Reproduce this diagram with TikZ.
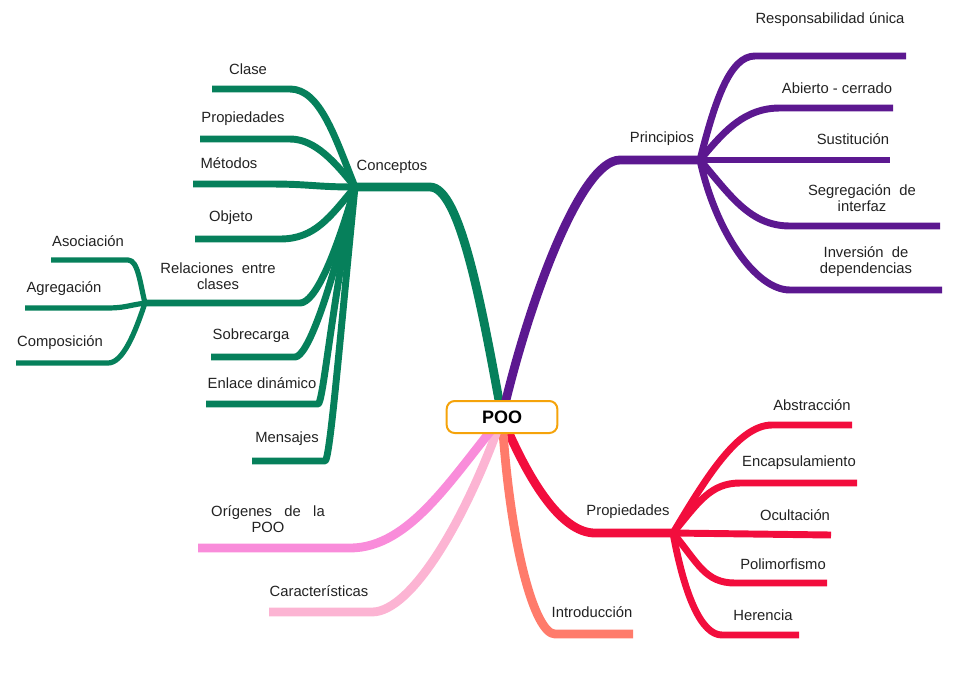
\documentclass[tikz,border=0pt]{standalone}
\usepackage{fontspec}
\setmainfont{Liberation Sans}

\definecolor{conccol}{HTML}{06805B}
\definecolor{princol}{HTML}{5C1890}
\definecolor{propcol}{HTML}{F20D3D}
\definecolor{introcol}{HTML}{FF7B6B}
\definecolor{origcol}{HTML}{F98CDA}
\definecolor{caraccol}{HTML}{FCB4D3}
\definecolor{poocol}{HTML}{F5A30A}
\definecolor{txtgray}{HTML}{222222}

\tikzset{
  lbl/.style={font=\fontsize{11.1}{12}\selectfont, text=txtgray, inner sep=0pt, align=center, yshift=-1.5pt},
  trunk/.style={line width=6.6pt, line join=round},
  twig/.style={line width=5.2pt, line join=round},
  leaf/.style={line width=3.9pt, line join=round},
}

\begin{document}
\begin{tikzpicture}[x=0.75pt, y=0.75pt]
   \useasboundingbox (0,0) rectangle (962,-679);

   % Hubs
   \coordinate (poo-c) at (502,-417);
   \coordinate (conc) at (355,-187);
   \coordinate (prin) at (700,-160);
   \coordinate (prop) at (673,-533);
   \coordinate (rel) at (145,-303);

   % Bends and free ends of the branches
   \coordinate (conc-b) at (430,-187);
   \coordinate (prin-b) at (620,-160);
   \coordinate (prop-b) at (595,-533);
   \coordinate (intro-b) at (555,-634);   \coordinate (intro-e) at (633,-634);
   \coordinate (carac-b) at (372,-612);   \coordinate (carac-e) at (269,-612);
   \coordinate (orig-b) at (350,-548);    \coordinate (orig-e) at (198,-548);

   \coordinate (clase-b) at (290,-89);    \coordinate (clase-e) at (212,-89);
   \coordinate (cprop-b) at (290,-139);   \coordinate (cprop-e) at (200,-139);
   \coordinate (metod-b) at (270,-184);   \coordinate (metod-e) at (193,-184);
   \coordinate (objet-b) at (280,-239);   \coordinate (objet-e) at (195,-239);
   \coordinate (rel-b) at (300,-303);
   \coordinate (sobre-b) at (295,-357);   \coordinate (sobre-e) at (211,-357);
   \coordinate (enlace-b) at (318,-404);  \coordinate (enlace-e) at (206,-404);
   \coordinate (mensa-b) at (325,-461);   \coordinate (mensa-e) at (252,-461);

   \coordinate (asoc-b) at (128,-260);    \coordinate (asoc-e) at (51,-260);
   \coordinate (agreg-b) at (105,-308);   \coordinate (agreg-e) at (25,-308);
   \coordinate (compo-b) at (108,-363);   \coordinate (compo-e) at (16,-363);

   \coordinate (resp-b) at (755,-56);     \coordinate (resp-e) at (906,-56);
   \coordinate (abier-b) at (780,-108);   \coordinate (abier-e) at (893,-108);
   \coordinate (susti-e) at (890,-160);
   \coordinate (segre-b) at (790,-226);   \coordinate (segre-e) at (940,-226);
   \coordinate (inver-b) at (790,-290);   \coordinate (inver-e) at (942,-290);

   \coordinate (abstr-b) at (772,-425);   \coordinate (abstr-e) at (852,-425);
   \coordinate (encap-b) at (740,-483);   \coordinate (encap-e) at (857,-483);
   \coordinate (ocult-e) at (831,-535);
   \coordinate (polim-b) at (735,-583);   \coordinate (polim-e) at (827,-583);
   \coordinate (heren-b) at (722,-635);   \coordinate (heren-e) at (799,-635);

   % Main branches
   \draw[trunk, conccol] (poo-c) .. controls +(-20,110) and +(30,0) .. (conc-b) -- (conc);
   \draw[trunk, princol] (poo-c) .. controls +(25,110) and +(-40,0) .. (prin-b) -- (prin);
   \draw[trunk, propcol] (poo-c) .. controls +(25,-60) and +(-35,0) .. (prop-b) -- (prop);
   \draw[trunk, introcol] (poo-c) .. controls +(8,-130) and +(-20,0) .. (intro-b) -- (intro-e);
   \draw[trunk, caraccol] (poo-c) .. controls +(-35,-100) and +(40,0) .. (carac-b) -- (carac-e);
   \draw[trunk, origcol] (poo-c) .. controls +(-50,-60) and +(60,0) .. (orig-b) -- (orig-e);

   % Conceptos
   \draw[twig, conccol] (conc) .. controls +(-20,50) and +(30,0) .. (clase-b) -- (clase-e);
   \draw[twig, conccol] (conc) .. controls +(-20,25) and +(25,0) .. (cprop-b) -- (cprop-e);
   \draw[twig, conccol] (conc) .. controls +(-40,0) and +(40,0) .. (metod-b) -- (metod-e);
   \draw[twig, conccol] (conc) .. controls +(-25,-30) and +(35,0) .. (objet-b) -- (objet-e);
   \draw[twig, conccol] (conc) .. controls +(-20,-70) and +(15,0) .. (rel-b) -- (rel);
   \draw[twig, conccol] (conc) .. controls +(-25,-110) and +(12,0) .. (sobre-b) -- (sobre-e);
   \draw[twig, conccol] (conc) .. controls +(-25,-130) and +(5,0) .. (enlace-b) -- (enlace-e);
   \draw[twig, conccol] (conc) .. controls +(-15,-150) and +(5,0) .. (mensa-b) -- (mensa-e);

   % Relaciones entre clases
   \draw[leaf, conccol] (rel) .. controls +(-5,20) and +(10,0) .. (asoc-b) -- (asoc-e);
   \draw[leaf, conccol] (rel) .. controls +(-20,-3) and +(20,0) .. (agreg-b) -- (agreg-e);
   \draw[leaf, conccol] (rel) .. controls +(-10,-30) and +(15,0) .. (compo-b) -- (compo-e);

   % Principios
   \draw[twig, princol] (prin) .. controls +(15,60) and +(-25,0) .. (resp-b) -- (resp-e);
   \draw[twig, princol] (prin) .. controls +(25,30) and +(-35,0) .. (abier-b) -- (abier-e);
   \draw[twig, princol] (prin) -- (susti-e);
   \draw[twig, princol] (prin) .. controls +(30,-35) and +(-40,0) .. (segre-b) -- (segre-e);
   \draw[twig, princol] (prin) .. controls +(15,-70) and +(-35,0) .. (inver-b) -- (inver-e);

   % Propiedades
   \draw[twig, propcol] (prop) .. controls +(30,50) and +(-35,0) .. (abstr-b) -- (abstr-e);
   \draw[twig, propcol] (prop) .. controls +(25,30) and +(-30,0) .. (encap-b) -- (encap-e);
   \draw[twig, propcol] (prop) -- (ocult-e);
   \draw[twig, propcol] (prop) .. controls +(25,-30) and +(-30,0) .. (polim-b) -- (polim-e);
   \draw[twig, propcol] (prop) .. controls +(12,-65) and +(-20,0) .. (heren-b) -- (heren-e);

   % Central topic
   \node[draw=poocol, line width=1.5pt, rounded corners=6pt, fill=white,
         minimum width=83pt, minimum height=24pt, text=black,
         font=\bfseries\fontsize{13.5}{16}\selectfont] (poo) at (poo-c) {POO};

   % Labels
   \node[lbl] (conc-t) at (392,-165) {Conceptos};
   \node[lbl] (prin-t) at (662,-137) {Principios};
   \node[lbl] (prop-t) at (628,-510) {Propiedades};
   \node[lbl] (intro-t) at (592,-610) {Introducción};
   \node[lbl] (carac-t) at (319,-589) {Características};
   \node[lbl] (orig-t) at (268,-517) {Orígenes \ \ de \ \ la\\POO};

   \node[lbl] (clase-t) at (248,-67) {Clase};
   \node[lbl] (cprop-t) at (243,-117) {Propiedades};
   \node[lbl] (metod-t) at (229,-161) {Métodos};
   \node[lbl] (objet-t) at (231,-216) {Objeto};
   \node[lbl] (rel-t) at (218,-274) {Relaciones \ entre\\clases};
   \node[lbl] (sobre-t) at (251,-334) {Sobrecarga};
   \node[lbl] (enlace-t) at (262,-381) {Enlace dinámico};
   \node[lbl] (mensa-t) at (287,-437) {Mensajes};

   \node[lbl] (asoc-t) at (88,-239) {Asociación};
   \node[lbl] (agreg-t) at (64,-287) {Agregación};
   \node[lbl] (compo-t) at (60,-341) {Composición};

   \node[lbl] (resp-t) at (830,-18) {Responsabilidad única};
   \node[lbl] (abier-t) at (837,-86) {Abierto - cerrado};
   \node[lbl] (susti-t) at (853,-137) {Sustitución};
   \node[lbl] (segre-t) at (862,-196) {Segregación \ de\\interfaz};
   \node[lbl] (inver-t) at (866,-260) {Inversión \ de\\dependencias};

   \node[lbl] (abstr-t) at (812,-403) {Abstracción};
   \node[lbl] (encap-t) at (799,-461) {Encapsulamiento};
   \node[lbl] (ocult-t) at (795,-513) {Ocultación};
   \node[lbl] (polim-t) at (783,-562) {Polimorfismo};
   \node[lbl] (heren-t) at (763,-613) {Herencia};
\end{tikzpicture}
\end{document}
